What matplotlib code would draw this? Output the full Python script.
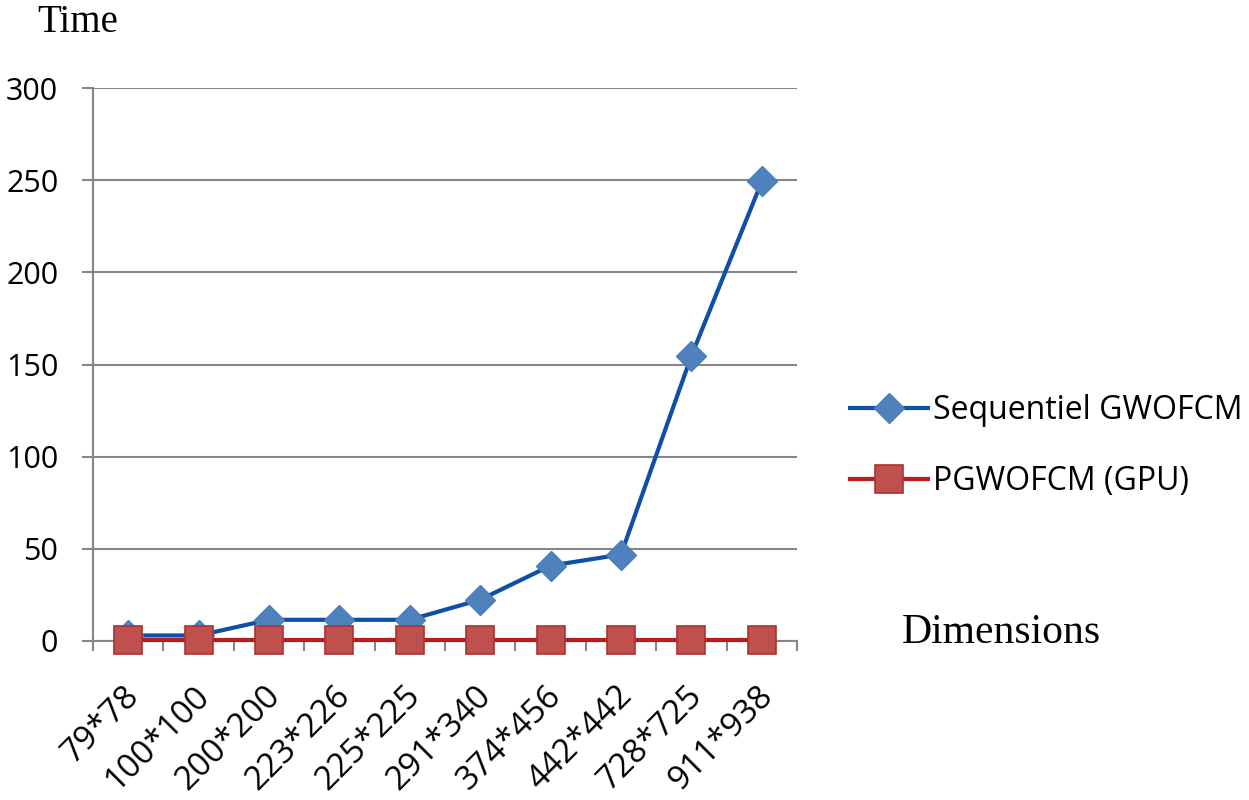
import matplotlib
matplotlib.use("Agg")
import matplotlib.pyplot as plt
import matplotlib.transforms as mtransforms

categories = ["79*78", "100*100", "200*200", "223*226", "225*225",
              "291*340", "374*456", "442*442", "728*725", "911*938"]
sequential = [3.0, 3.0, 11.5, 11.5, 11.5, 22.4, 40.9, 46.9, 154.7, 249.3]
gpu = [0.3, 0.3, 0.3, 0.3, 0.3, 0.3, 0.3, 0.3, 0.3, 0.3]
yticks = [0, 50, 100, 150, 200, 250, 300]
series_names = ["Sequentiel GWOFCM", "PGWOFCM (GPU)"]

plt.rcParams['font.family'] = ['Open Sans', 'DejaVu Sans']

fig = plt.figure(figsize=(12.49, 8.0), dpi=100)
ax = fig.add_axes([93/1249, 1-641/800, (797-93)/1249, (641-88)/800])

x = list(range(len(categories)))
grid_col = '#868686'

ax.set_ylim(0, 300)
ax.set_xlim(-0.5, len(categories) - 0.5)
ax.set_yticks(yticks)
ax.yaxis.grid(True, color=grid_col, linewidth=1.5)
ax.set_axisbelow(True)

l1, = ax.plot(x, sequential, color='#0F4FA8', linewidth=3, marker='D', markersize=15,
              markerfacecolor='#4F81BD', markeredgecolor='#4A7EBB', markeredgewidth=1,
              zorder=3, clip_on=False)
l2, = ax.plot(x, gpu, color='#B81C1C', linewidth=3, marker='s', markersize=20,
              markerfacecolor='#C0504D', markeredgecolor='#A93330', markeredgewidth=1.2,
              zorder=4, clip_on=False)

# boundary ticks on x axis
ax.set_xticks([i + 0.5 for i in range(-1, len(categories))], minor=False)
ax.set_xticklabels([])
ax.set_xticks(x, minor=True)
ax.set_xticklabels(categories, minor=True, rotation=45, ha='right', va='center',
                   rotation_mode='anchor', fontsize=24)
ax.tick_params(axis='x', which='major', length=7, width=1.5, color=grid_col, direction='out')
ax.tick_params(axis='x', which='minor', length=0, pad=36)
ax.tick_params(axis='y', length=8, width=1.5, color=grid_col, labelsize=22, pad=17)

offset = mtransforms.ScaledTranslation(6/100, 0, fig.dpi_scale_trans)
for lab in ax.get_xticklabels(minor=True):
    lab.set_transform(lab.get_transform() + offset)

for s in ['top', 'right']:
    ax.spines[s].set_visible(False)
for s in ['left', 'bottom']:
    ax.spines[s].set_color(grid_col)
    ax.spines[s].set_linewidth(1.5)

fig.text(37/1249, 1-22/800, "Time", family='Liberation Serif', fontsize=28, ha='left', va='center')
fig.text(902/1249, 1-633/800, "Dimensions", family='Liberation Serif', fontsize=30, ha='left', va='center')

leg = ax.legend([l1, l2], series_names, loc='center left',
                bbox_to_anchor=(850/1249, 1-446/800), bbox_transform=fig.transFigure,
                frameon=False, fontsize=23, handlelength=2.45, handletextpad=0.15,
                labelspacing=1.2, borderpad=0, borderaxespad=0)

fig.savefig("out.png", dpi=100)
